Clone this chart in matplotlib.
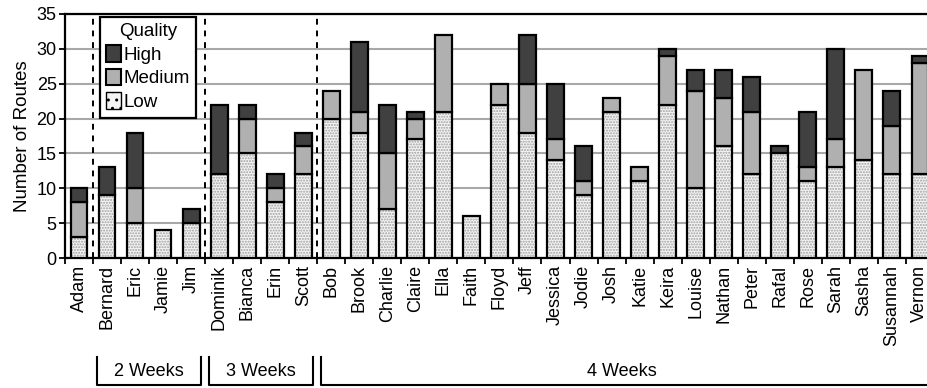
import numpy as np
from matplotlib import pyplot as plt
from matplotlib.patches import Patch
import matplotlib.transforms as mtransforms

plt.rcParams['font.family'] = ['Liberation Sans', 'DejaVu Sans']

names = ["Adam", "Bernard", "Eric", "Jamie", "Jim", "Dominik", "Bianca", "Erin", "Scott",
         "Bob", "Brook", "Charlie", "Claire", "Ella", "Faith", "Floyd", "Jeff", "Jessica",
         "Jodie", "Josh", "Katie", "Keira", "Louise", "Nathan", "Peter", "Rafal", "Rose",
         "Sarah", "Sasha", "Susannah", "Vernon"]
low = [3, 9, 5, 4, 5, 12, 15, 8, 12,
       20, 18, 7, 17, 21, 6, 22, 18, 14,
       9, 21, 11, 22, 10, 16, 12, 15, 11,
       13, 14, 12, 12]
medium = [5, 0, 5, 0, 0, 0, 5, 2, 4,
          4, 3, 8, 3, 11, 0, 3, 7, 3,
          2, 2, 2, 7, 14, 7, 9, 0, 2,
          4, 13, 7, 16]
high = [2, 4, 8, 0, 2, 10, 2, 2, 2,
        0, 10, 7, 1, 0, 0, 0, 7, 8,
        5, 0, 0, 1, 3, 4, 5, 1, 8,
        13, 0, 5, 1]
# groups: (label, first index, last index)
groups = [("2 Weeks", 1, 4), ("3 Weeks", 5, 8), ("4 Weeks", 9, 30)]

low = np.array(low)
medium = np.array(medium)
high = np.array(high)
x = np.arange(len(names))
w = 0.6

fig = plt.figure(figsize=(9.28, 3.88), dpi=100)
ax = fig.add_axes([0.070, 0.335, 0.937, 0.629])

# low: stipple fill then black outline
ax.bar(x, low, w, color='#f4f4f4', edgecolor='#a0a0a0', hatch='......', linewidth=0, zorder=3)
ax.bar(x, low, w, fill=False, edgecolor='black', linewidth=1.6, zorder=4)
m = medium > 0
ax.bar(x[m], medium[m], w, bottom=low[m], color='#b0b0b0', edgecolor='black', linewidth=1.6, zorder=4)
h = high > 0
ax.bar(x[h], high[h], w, bottom=(low + medium)[h], color='#404040', edgecolor='black', linewidth=1.6, zorder=4)

ax.set_xlim(-0.5, len(names) - 0.5 + 0.02)
ax.set_ylim(0, 35)
ax.set_yticks(range(0, 36, 5))
ax.yaxis.grid(True, color='#a8a8a8', linewidth=1.5, zorder=0)
ax.set_axisbelow(True)

ax.set_xticks(x)
ax.set_xticklabels(names, rotation=90, fontsize=13)
ax.tick_params(axis='x', which='major', length=0, pad=5)
ax.set_xticks(np.arange(-0.5, len(names), 1), minor=True)
ax.tick_params(axis='x', which='minor', length=4, width=1.3, direction='out')
ax.tick_params(axis='y', length=4, width=1.3, labelsize=13, pad=2)
ax.set_ylabel("Number of Routes", fontsize=13.5, labelpad=4)

for s in ['left', 'bottom', 'top']:
    ax.spines[s].set_linewidth(1.6)
ax.spines['right'].set_visible(False)

for b in [0.5, 4.5, 8.5]:
    ax.axvline(b, color='black', linestyle=(0, (3, 3)), linewidth=1.4, zorder=5)

# group brackets under the names
trans = mtransforms.blended_transform_factory(ax.transData, ax.transAxes)
y_top, y_bot = -0.405, -0.52
for label, i0, i1 in groups:
    a = i0 - 0.5 + 0.14
    b = i1 + 0.5 - 0.16
    ax.plot([a, a, b, b], [y_top, y_bot, y_bot, y_top], color='black', linewidth=1.5,
            transform=trans, clip_on=False)
    ax.text((i0 + min(i1, 29.7)) / 2, -0.467, label, transform=trans, ha='center', va='center',
            fontsize=13)

handles = [Patch(facecolor='#404040', edgecolor='black', linewidth=1.5, label='High'),
           Patch(facecolor='#b0b0b0', edgecolor='black', linewidth=1.5, label='Medium'),
           Patch(facecolor='#f4f4f4', edgecolor='black', linewidth=1.0, hatch='..', label='Low')]
leg = ax.legend(handles=handles, title='Quality', loc='upper left', bbox_to_anchor=(0.040, 0.988),
                fontsize=13.5, title_fontsize=13.5, fancybox=False, framealpha=1,
                edgecolor='black', handlelength=0.8, handleheight=1.0, handletextpad=0.12,
                labelspacing=0.25, borderpad=0.35, borderaxespad=0)
leg.get_frame().set_linewidth(1.6)
leg.set_zorder(10)

fig.savefig("out.png", dpi=100)
